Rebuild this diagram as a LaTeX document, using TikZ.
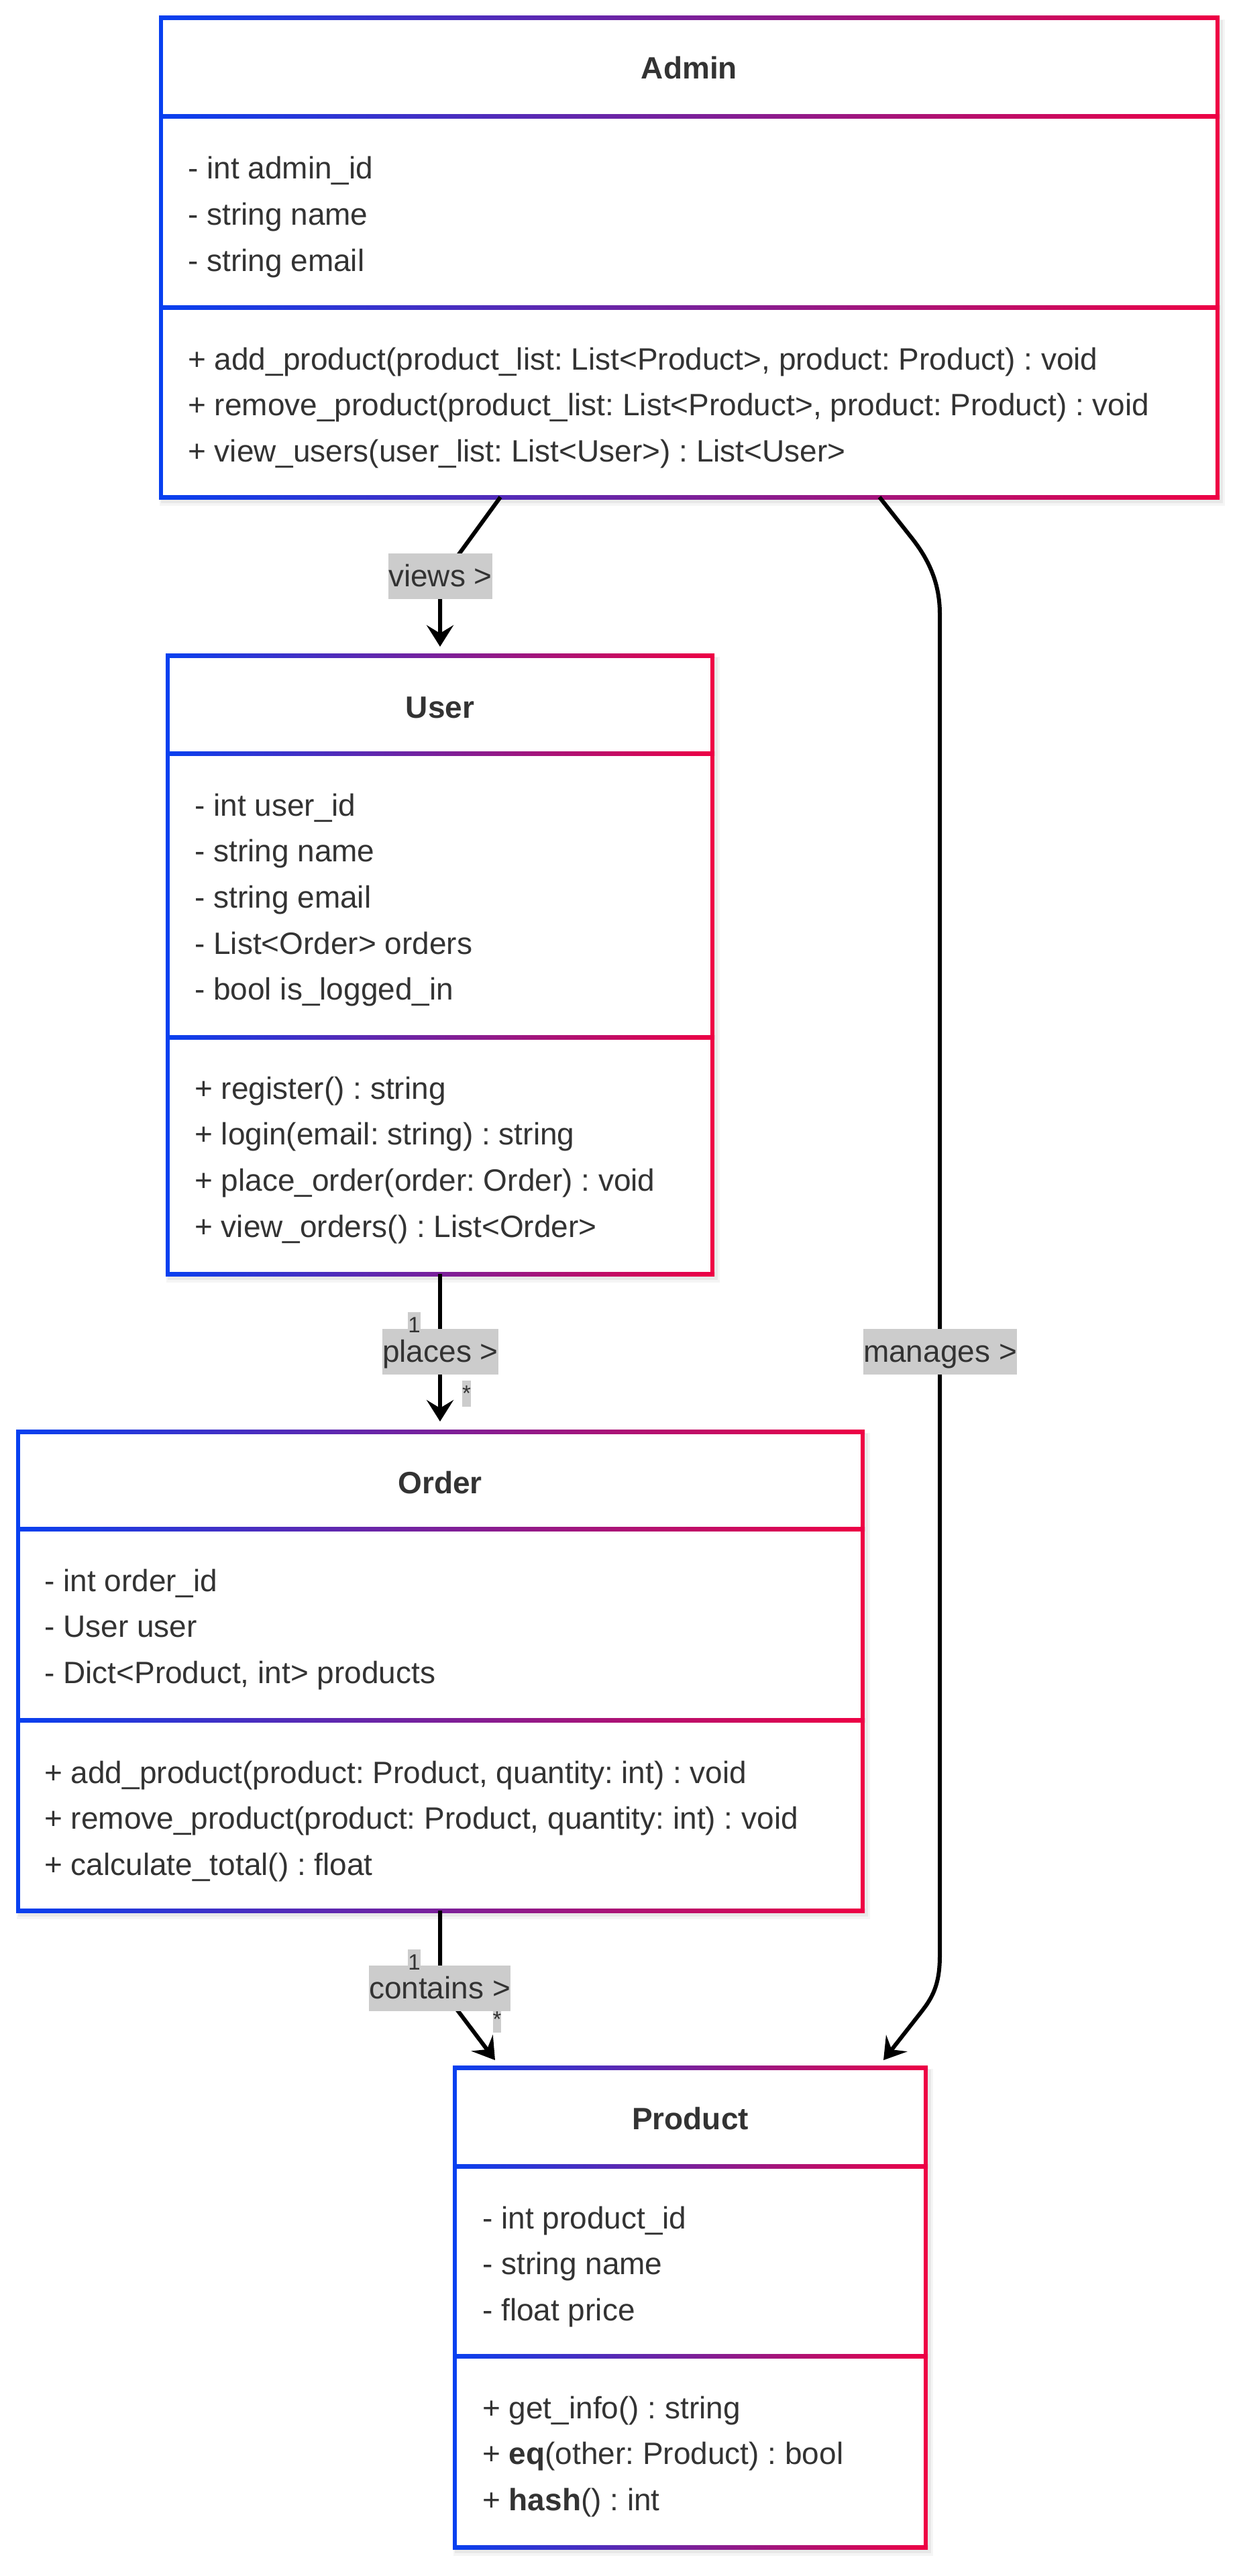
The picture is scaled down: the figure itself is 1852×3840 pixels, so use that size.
\documentclass[tikz,border=0pt]{standalone}
\usepackage{fontspec}
\setmainfont{Liberation Sans}
\usetikzlibrary{arrows.meta,calc}
\frenchspacing
\definecolor{cblue}{RGB}{8,64,240}
\definecolor{cred}{RGB}{238,0,68}
\definecolor{ctext}{RGB}{51,51,51}
\definecolor{clab}{RGB}{204,204,204}
\tikzset{
  txt/.style={font=\fontsize{46}{55}\selectfont, text=ctext, inner sep=0pt, anchor=base west},
  ttl/.style={font=\fontsize{46}{55}\selectfont\bfseries, text=ctext, inner sep=0pt, anchor=base},
  lab/.style={fill=clab, text=ctext, font=\fontsize{46}{55}\selectfont, inner sep=0pt,
    minimum height=68pt, text height=37pt, text depth=7pt},
  card/.style={fill=clab, text=ctext, font=\fontsize{33}{40}\selectfont, inner sep=0pt,
    minimum height=39pt, text height=26pt, text depth=5pt},
  conn/.style={line width=6pt, black, -{Stealth[length=32pt,width=40pt,inset=12pt]}},
}
% name, x1, y1, x2, y2, sep1, sep2
\newcommand\umlbox[7]{%
  \fill[black,opacity=0.04] (#2-2,#3+2) rectangle (#4+11,#5+13);
  \fill[black,opacity=0.05] (#2,#3+3) rectangle (#4+8,#5+9);
  \node[fill=white,inner sep=0pt,minimum width={#4-#2},minimum height={#5-#3},anchor=north west] (#1) at (#2,#3) {};
  \fill[cblue] (#2-3,#3-3) rectangle (#2+3,#5+3);
  \fill[cred] (#4-3,#3-3) rectangle (#4+3,#5+3);
  \foreach \yy in {#3,#6,#7,#5} {\shade[left color=cblue,right color=cred] (#2-3,\yy-3) rectangle (#4+3,\yy+3);}
}
% prefix, x, first baseline, list
\newcommand\umllines[4]{%
  \foreach \linetext [count=\i] in {#4} {\node[txt] (#1\i) at (#2,{#3+(\i-1)*68.7}) {\linetext};}
}
\begin{document}
\begin{tikzpicture}[x=1pt,y=-1pt]
\useasboundingbox[fill=white] (0,0) rectangle (1852,3840);

% ---------- classes ----------
\umlbox{admin}{240}{27}{1815}{741}{174}{458}
\node[ttl] (adminT) at (1027.5,118) {Admin};
\umllines{adminA}{280}{267}{{- int admin\_id},{- string name},{- string email}}
\umllines{adminM}{280}{551}{{+ add\_product(product\_list: List<Product>, product: Product) : void},{+ remove\_product(product\_list: List<Product>, product: Product) : void},{+ view\_users(user\_list: List<User>) : List<User>}}

\umlbox{user}{250}{977}{1062}{1899}{1123}{1546}
\node[ttl] (userT) at (656,1070) {User};
\umllines{userA}{290}{1216}{{- int user\_id},{- string name},{- string email},{- List<Order> orders},{- bool is\_logged\_in}}
\umllines{userM}{290}{1638}{{+ register() : string},{+ login(email: string) : string},{+ place\_order(order: Order) : void},{+ view\_orders() : List<Order>}}

\umlbox{order}{27}{2134}{1286}{2848}{2279}{2564}
\node[ttl] (orderT) at (656,2226) {Order};
\umllines{orderA}{66}{2372}{{- int order\_id},{- User user},{- Dict<Product, int> products}}
\umllines{orderM}{66}{2658}{{+ add\_product(product: Product, quantity: int) : void},{+ remove\_product(product: Product, quantity: int) : void},{+ calculate\_total() : float}}

\umlbox{product}{678}{3082}{1380}{3797}{3229}{3512}
\node[ttl] (productT) at (1029,3174) {Product};
\umllines{productA}{719}{3322}{{- int product\_id},{- string name},{- float price}}
\umllines{productM}{719}{3605}{{+ get\_info() : string},{+ \textbf{eq}(other: Product) : bool},{+ \textbf{hash}() : int}}

% ---------- connector end points ----------
\coordinate (vA) at (746,741);
\coordinate (vT) at (656,964);
\coordinate (pA) at (656,1899);
\coordinate (pT) at (656,2119);
\coordinate (cA) at (656,2848);
\coordinate (cT) at (738,3071);
\coordinate (mA) at (1311,741);
\coordinate (mT) at (1317,3071);

% ---------- connectors ----------
\draw[conn] (vA) -- (690,818) .. controls (662,856) and (656,870) .. (656,895) -- (vT);
\draw[conn] (pA) -- (pT);
\draw[conn] (cA) -- (656,2925) .. controls (656,2960) and (668,2978) .. (683,2998) -- (cT);
\draw[conn] (mA) -- (1360,803) .. controls (1385,835) and (1401,870) .. (1401,915)
  -- (1401,2915) .. controls (1401,2955) and (1392,2975) .. (1375,2997) -- (mT);

% ---------- labels ----------
\node[lab] (views) at (656.5,859) {views >};
\node[lab] (places) at (656.5,2015) {places >};
\node[lab] (manages) at (1401.5,2015) {manages >};
\node[lab] (contains) at (655.5,2964) {contains >};
\node[card] (p1) at (617.5,1975.5) {1};
\node[card] (pS) at (695.5,2077.5) {*};
\node[card] (c1) at (617.5,2925.5) {1};
\node[card] (cS) at (741,3010.5) {*};
\end{tikzpicture}
\end{document}
